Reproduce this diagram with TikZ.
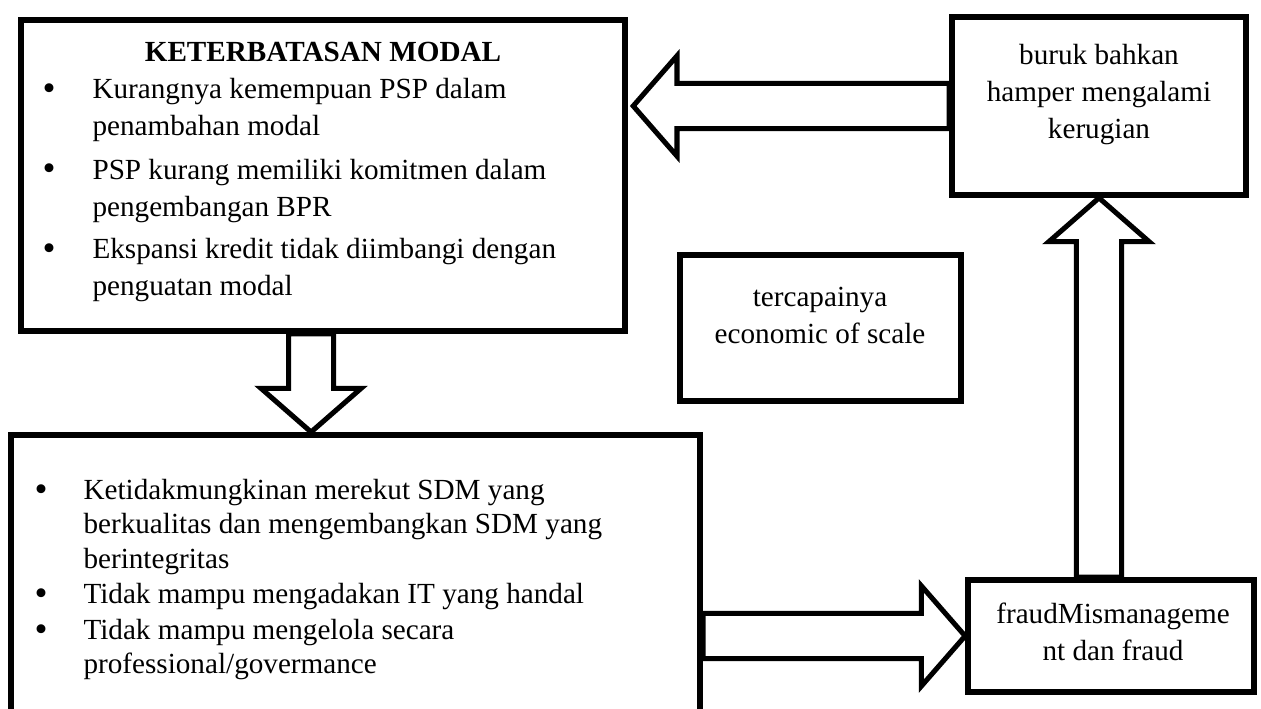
\documentclass[tikz,border=0pt]{standalone}
\usepackage{fontspec}
\setmainfont{Liberation Serif}
\usepackage{tikz}
\usetikzlibrary{shapes, arrows, positioning, calc}

\begin{document}
\begin{tikzpicture}[x=0.377pt, y=-0.377pt]
\tikzset{box/.style = {draw, line width=2.2pt, inner sep=0pt},
         txt/.style = {inner sep=0pt, font=\fontsize{11}{13.95}\selectfont},
         dot/.style = {inner sep=0pt, font=\fontsize{14}{14}\selectfont},
         item/.style = {txt, anchor=west, align=left},
         itemb/.style = {item, font=\fontsize{11}{13.1}\selectfont},
         fat/.style = {draw, line width=1.9pt, line join=miter, fill=white,
            to path={($(\tikztostart)!8.5pt!90:(\tikztotarget)$)
              -- ($(\tikztotarget)!16.5pt!(\tikztostart) + (\tikztostart)!8.5pt!90:(\tikztotarget) - (\tikztostart)$)
              -- ($(\tikztotarget)!16.5pt!(\tikztostart) + (\tikztostart)!18.9pt!90:(\tikztotarget) - (\tikztostart)$)
              -- (\tikztotarget)
              -- ($(\tikztotarget)!16.5pt!(\tikztostart) + (\tikztostart)!18.9pt!-90:(\tikztotarget) - (\tikztostart)$)
              -- ($(\tikztotarget)!16.5pt!(\tikztostart) + (\tikztostart)!8.5pt!-90:(\tikztotarget) - (\tikztostart)$)
              -- ($(\tikztostart)!8.5pt!-90:(\tikztotarget)$) -- cycle}}}
\useasboundingbox (0,0) rectangle (1261,709);
\clip (0,0) rectangle (1261,709);
            % vertices
	\node[box, minimum width=227.7pt, minimum height=117.2pt] (b1) at (323,175.5) {};
	\node[box, minimum width=110.8pt, minimum height=67.1pt] (b2) at (1099,106) {};
	\node[box, minimum width=105.9pt, minimum height=55pt] (b3) at (820.5,328) {};
	\node[box, minimum width=107.8pt, minimum height=42.2pt] (b4) at (1111,636) {};
	\node[box, minimum width=259.8pt, minimum height=128.2pt] (b5) at (355.5,605) {};
	\coordinate (d1) at ([xshift=-4.5pt]b1.south);
	\coordinate (l1) at ([xshift=2pt]b1.east |- b2.west);
            % texts
	\node[txt] (t1) at (323,52) {\bfseries KETERBATASAN MODAL};
	\node[dot] (k1) at (49,92) {\textbullet};
	\node[dot] (k2) at (49,172) {\textbullet};
	\node[dot] (k3) at (49,252) {\textbullet};
	\node[item] (i1) at (92,110) {Kurangnya kemempuan PSP dalam\\penambahan modal};
	\node[item] (i2) at (92,191) {PSP kurang memiliki komitmen dalam\\pengembangan BPR};
	\node[item] (i3) at (92,270) {Ekspansi kredit tidak diimbangi dengan\\penguatan modal};
	\node[txt, align=center] (t2) at (1099,95) {buruk bahkan\\hamper mengalami\\kerugian};
	\node[txt, align=center] (t3) at (820,315.5) {tercapainya\\economic of scale};
	\node[txt, align=center] (t4) at (1113,631.5) {fraudMismanageme\\nt dan fraud};
	\node[dot] (k4) at (41,493) {\textbullet};
	\node[dot] (k5) at (41,597) {\textbullet};
	\node[dot] (k6) at (41,633) {\textbullet};
	\node[itemb] (i4) at (83,527) {Ketidakmungkinan merekut SDM yang\\berkualitas dan mengembangkan SDM yang\\berintegritas};
	\node[itemb] (i5) at (83,597) {Tidak mampu mengadakan IT yang handal};
	\node[itemb] (i6) at (83,649.5) {Tidak mampu mengelola secara\\professional/govermance};
            %edges
	\draw[fat] (b2.west) to (l1);
	\draw[fat] (d1) to (d1 |- b5.north);
	\draw[fat] (b5.east |- b4.west) to (b4.west);
	\draw[fat] (b4.north -| b2.south) to (b2.south);
\end{tikzpicture}
\end{document}
